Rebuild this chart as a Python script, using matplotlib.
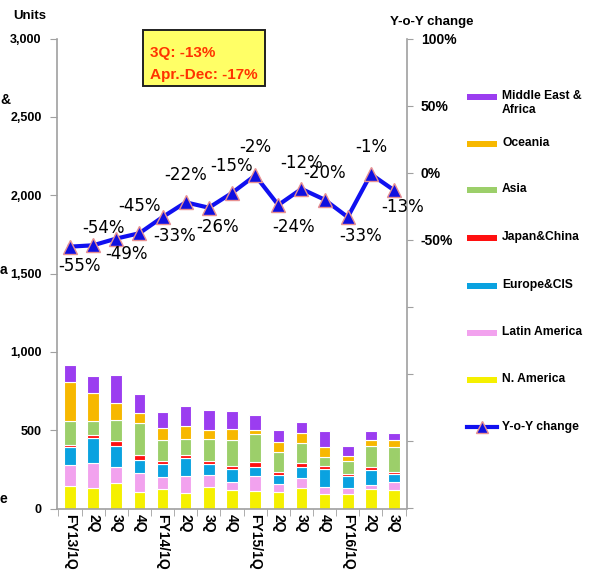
import matplotlib.pyplot as plt
from matplotlib.patches import Rectangle
from matplotlib.lines import Line2D

quarters = ["FY13/1Q", "2Q", "3Q", "4Q", "FY14/1Q", "2Q", "3Q", "4Q",
            "FY15/1Q", "2Q", "3Q", "4Q", "FY16/1Q", "2Q", "3Q"]

n_america = [144, 129, 161, 108, 123, 102, 140, 119, 114, 104, 129, 93, 93, 123, 119]
latin_america = [133, 159, 106, 117, 81, 106, 74, 53, 93, 53, 64, 47, 36, 28, 47]
europe_cis = [117, 159, 133, 85, 81, 112, 68, 78, 55, 57, 74, 110, 78, 95, 55]
japan_china = [12, 19, 32, 34, 21, 19, 21, 23, 32, 17, 21, 21, 13, 21, 15]
asia = [153, 93, 131, 199, 131, 104, 140, 167, 184, 131, 131, 55, 85, 131, 155]
oceania = [248, 178, 112, 66, 74, 85, 57, 66, 21, 61, 61, 64, 30, 38, 47]
middle_east = [112, 106, 178, 121, 102, 127, 127, 114, 100, 76, 72, 106, 61, 57, 42]

yoy = [-55, -54, -49, -45, -33, -22, -26, -15, -2, -24, -12, -20, -33, -1, -13]

series = [
    ("N. America", n_america, "#F5F000"),
    ("Latin America", latin_america, "#F2A2EE"),
    ("Europe&CIS", europe_cis, "#0AA2E0"),
    ("Japan&China", japan_china, "#FF1010"),
    ("Asia", asia, "#9CCF6A"),
    ("Oceania", oceania, "#F7B800"),
    ("Middle East &\nAfrica", middle_east, "#9B3DF0"),
]

# offsets of the percentage labels (pixels)
label_offsets = [(10, -19), (10, 17), (10, -15), (0, 27), (12, -19), (0, 27), (9, -19),
                 (0, 27), (0, 28), (15, -22), (0, 26), (0, 27), (13, -19), (0, 27), (9, -17)]

plt.rcParams["font.family"] = "Liberation Sans"
plt.rcParams["font.weight"] = "bold"

W, H = 589, 575
fig = plt.figure(figsize=(W / 100, H / 100), dpi=100)
ax = fig.add_axes([57 / W, 1 - 508.5 / H, 350 / W, 470 / H])


def fx(px):
    return px / W


def fy(py):
    return 1 - py / H


x = list(range(len(quarters)))
bottom = [0] * len(quarters)
for name, vals, col in series:
    ax.bar(x, vals, width=0.5, bottom=bottom, color=col, edgecolor="white", linewidth=0.8)
    bottom = [b + v for b, v in zip(bottom, vals)]

ax.set_ylim(0, 3000)
ax.set_xlim(-0.56, 14.56)
ax.set_yticks(range(0, 3001, 500))
ax.set_yticklabels([f"{v:,}" for v in range(0, 3001, 500)], fontsize=9, fontweight="bold")
ax.set_xticks(x)
ax.set_xticklabels(quarters, rotation=270, fontsize=10, fontweight="bold")
ax.set_xticks([i - 0.5 for i in range(len(quarters) + 1)], minor=True)
ax.tick_params(axis="x", which="major", length=0, pad=4)
ax.tick_params(axis="x", which="minor", length=5, color="#A0A0A0")
ax.tick_params(axis="y", length=5, color="#A0A0A0", pad=6)
for s in ["top", "right"]:
    ax.spines[s].set_visible(False)
for s in ["left", "bottom"]:
    ax.spines[s].set_color("#A0A0A0")
    ax.spines[s].set_linewidth(1.2)

ax2 = ax.twinx()
ax2.set_ylim(-250, 100)
ax2.set_yticks(range(-250, 101, 50))
ax2.set_yticklabels(["" if v < -50 else f"{v}%" for v in range(-250, 101, 50)],
                    fontsize=10, fontweight="bold")
ax2.tick_params(axis="y", length=4, color="#A0A0A0", pad=6)
ax2.spines["right"].set_color("#A0A0A0")
ax2.spines["right"].set_linewidth(1.2)
for s in ["top", "left", "bottom"]:
    ax2.spines[s].set_visible(False)

ax2.plot(x, yoy, color="#1010F0", linewidth=3, marker="^", markersize=9.5,
         markerfacecolor="#1010E0", markeredgecolor="#E89090", markeredgewidth=1)
for xi, v, off in zip(x, yoy, label_offsets):
    ax2.annotate(f"{v}%", (xi, v), xytext=off, textcoords="offset pixels",
                 ha="center", va="center", fontsize=12, fontweight="normal",
                 family="DejaVu Sans", color="black")

fig.text(fx(13), fy(16), "Units", fontsize=9.5, fontweight="bold", va="center")
fig.text(fx(390), fy(22), "Y-o-Y change", fontsize=9.5, fontweight="bold", va="center")

# note box
fig.add_artist(Rectangle((fx(143), fy(86)), fx(122), 56 / H, transform=fig.transFigure,
                         facecolor="#FFFF66", edgecolor="#202020", linewidth=1.4))
fig.text(fx(150), fy(53), "3Q: -13%", fontsize=11, fontweight="bold", color="#FF3300", va="center")
fig.text(fx(150), fy(75), "Apr.-Dec: -17%", fontsize=11, fontweight="bold", color="#FF3300",
         va="center")

# clipped text fragments at the left edge
fig.text(0, fy(100), "&", fontsize=10, fontweight="bold", va="center")
fig.text(0, fy(270), "a", fontsize=10, fontweight="bold", va="center")
fig.text(0, fy(499), "e", fontsize=10, fontweight="bold", va="center")

# legend, drawn entry by entry
legend_y = [97, 144, 190, 238, 286, 333, 380]
for (name, vals, col), ly in zip(reversed(series), legend_y):
    fig.add_artist(Rectangle((fx(467), fy(ly + 3)), fx(30), 6 / H, transform=fig.transFigure,
                             facecolor=col, edgecolor="none"))
    fig.text(fx(502), fy(ly - 7), name, fontsize=8.7, fontweight="bold", va="top",
             linespacing=1.25)
fig.add_artist(Line2D([fx(467), fx(497)], [fy(427), fy(427)], transform=fig.transFigure,
                      color="#1010F0", linewidth=3))
fig.add_artist(Line2D([fx(482)], [fy(427)], transform=fig.transFigure, marker="^",
                      markersize=8, markerfacecolor="#1010E0", markeredgecolor="#E89090"))
fig.text(fx(502), fy(427), "Y-o-Y change", fontsize=8.7, fontweight="bold", va="center")

fig.savefig("out.png", dpi=100)
